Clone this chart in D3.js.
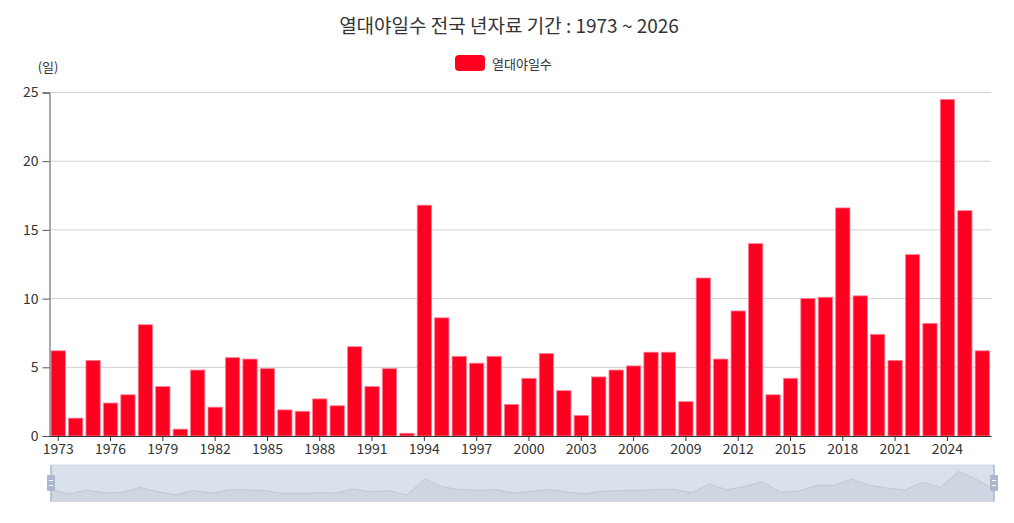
<!DOCTYPE html>
<html>
<head>
<meta charset="utf-8">
<script src="https://cdn.jsdelivr.net/npm/d3@7"></script>
<style>
  html, body { margin: 0; padding: 0; background: #fff; }
  svg { display: block; font-family: "Noto Sans CJK KR", "Noto Sans", sans-serif; }
</style>
</head>
<body>
<div id="chart"></div>
<script>
// data
const years = d3.range(1973, 2027).map(String);
const tropicalNights = [
  6.2, 1.3, 5.5, 2.4, 3.0, 8.1, 3.6, 0.5, 4.8, 2.1,
  5.7, 5.6, 4.9, 1.9, 1.8, 2.7, 2.2, 6.5, 3.6, 4.9,
  0.2, 16.8, 8.6, 5.8, 5.3, 5.8, 2.3, 4.2, 6.0, 3.3,
  1.5, 4.3, 4.8, 5.1, 6.1, 6.1, 2.5, 11.5, 5.6, 9.1,
  14.0, 3.0, 4.2, 10.0, 10.1, 16.6, 10.2, 7.4, 5.5, 13.2,
  8.2, 24.5, 16.4, 6.2
];
const yTicks = [0, 5, 10, 15, 20, 25];
const seriesName = "열대야일수";
const titleText = "열대야일수 전국 년자료 기간 : 1973 ~ 2026";
const unitText = "(일)";

const W = 1014, H = 523;
const margin = {top: 92.5, right: 23, bottom: 87, left: 49.5};
const width = W - margin.left - margin.right,
      height = H - margin.top - margin.bottom;

const svg = d3.select("#chart").append("svg")
  .attr("width", W).attr("height", H);

// title
svg.append("text")
  .attr("x", 509).attr("y", 24)
  .attr("text-anchor", "middle").attr("dominant-baseline", "central")
  .style("font-size", "19px").style("fill", "#333")
  .text(titleText);

// legend
const legend = svg.append("g").attr("transform", "translate(455,55)");
legend.append("rect")
  .attr("width", 30).attr("height", 16).attr("rx", 4)
  .attr("fill", "#ff0020");
legend.append("text")
  .attr("x", 37).attr("y", 8).attr("dominant-baseline", "central")
  .style("font-size", "13px").style("fill", "#333")
  .text(seriesName);

// unit label
svg.append("text")
  .attr("x", 48).attr("y", 66)
  .attr("text-anchor", "middle").attr("dominant-baseline", "central")
  .style("font-size", "13px").style("fill", "#333")
  .text(unitText);

const g = svg.append("g")
  .attr("transform", `translate(${margin.left},${margin.top})`);

const x = d3.scaleBand().domain(years).range([0, width]).paddingInner(0.18).paddingOuter(0.09);
const xc = d3.scaleBand().domain(years).range([0, width]);
const y = d3.scaleLinear().domain([0, 25]).range([height, 0]);

// gridlines
g.append("g")
  .selectAll("line")
  .data(yTicks.filter(d => d > 0))
  .join("line")
  .attr("x1", 0).attr("x2", width)
  .attr("y1", d => y(d)).attr("y2", d => y(d))
  .attr("stroke", "#d0d0d0").attr("stroke-width", 1);

// bars
g.append("g")
  .selectAll("rect")
  .data(tropicalNights)
  .join("rect")
  .attr("x", (d, i) => x(years[i]))
  .attr("y", d => y(d))
  .attr("width", x.bandwidth())
  .attr("height", d => height - y(d))
  .attr("fill", "#ff0020")
  .attr("stroke", "#ff8095")
  .attr("stroke-width", 0.8);

// y axis
const yAxis = g.append("g")
  .call(d3.axisLeft(y).tickValues(yTicks).tickSize(7).tickPadding(4));
yAxis.select(".domain").attr("stroke", "#555");
yAxis.selectAll(".tick line").attr("stroke", "#555");
yAxis.selectAll("text").style("font-size", "14px").style("fill", "#333")
  .style("font-family", "'Noto Sans CJK KR', sans-serif");

// x axis
const labelYears = years.filter((d, i) => i % 3 === 0);
const xAxis = g.append("g")
  .attr("transform", `translate(0,${height})`)
  .call(d3.axisBottom(xc).tickValues(labelYears).tickSize(5).tickSizeOuter(0).tickPadding(3));
xAxis.select(".domain").attr("stroke", "#333");
xAxis.selectAll(".tick line").attr("stroke", "#333");
xAxis.selectAll("text").style("font-size", "14px").style("fill", "#333")
  .style("font-family", "'Noto Sans CJK KR', sans-serif");

// data zoom slider
const sl = {x: 51, y: 465, w: 943, h: 36.5};
const slider = svg.append("g").attr("transform", `translate(${sl.x},${sl.y})`);
slider.append("rect")
  .attr("width", sl.w).attr("height", sl.h)
  .attr("fill", "#dbe1ea").attr("stroke", "#d6dbe3");

const sx = d3.scalePoint().domain(years).range([0, sl.w]);
const ext = d3.extent(tropicalNights);
const span = ext[1] - ext[0];
const sy = d3.scaleLinear()
  .domain([ext[0] - span * 0.27, ext[1] + span * 0.27])
  .range([sl.h, 0]);

slider.append("path")
  .datum(tropicalNights)
  .attr("d", d3.area()
    .x((d, i) => sx(years[i]))
    .y0(sl.h).y1(d => sy(d)))
  .attr("fill", "#cfd6e1");
slider.append("path")
  .datum(tropicalNights)
  .attr("d", d3.line()
    .x((d, i) => sx(years[i]))
    .y(d => sy(d)))
  .attr("fill", "none").attr("stroke", "#c0c8d5").attr("stroke-width", 1);

// handles
[0, sl.w].forEach(hx => {
  slider.append("line")
    .attr("x1", hx).attr("x2", hx).attr("y1", 0).attr("y2", sl.h)
    .attr("stroke", "#aebbd0").attr("stroke-width", 1.5);
  slider.append("rect")
    .attr("x", hx - 4).attr("y", 10).attr("width", 8).attr("height", 16).attr("rx", 1)
    .attr("fill", "#a9b8cd");
  [15.5, 20.5].forEach(ly => {
    slider.append("line")
      .attr("x1", hx - 2).attr("x2", hx + 2).attr("y1", ly).attr("y2", ly)
      .attr("stroke", "#fff").attr("stroke-width", 1);
  });
});
</script>
</body>
</html>
